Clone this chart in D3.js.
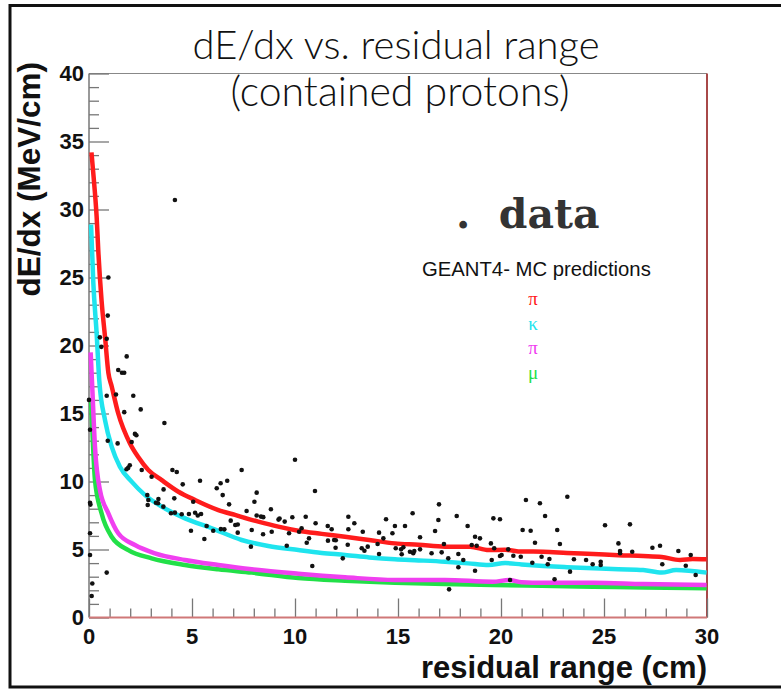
<!DOCTYPE html>
<html>
<head>
<meta charset="utf-8">
<script src="https://cdn.jsdelivr.net/npm/d3@7"></script>
<style>
  html, body { margin: 0; padding: 0; background: #fff; }
  svg { display: block; }
</style>
</head>
<body>
<svg id="chart" width="781" height="690"></svg>
<script>

// values
const rangeTicks = [0, 5, 10, 15, 20, 25, 30]
const dedxTicks = [0, 5, 10, 15, 20, 25, 30, 35, 40]

// MC prediction curves: [residual range (cm), dE/dx (MeV/cm)]
const redCurve = [
  [0.12, 34.2], [0.2, 32.8], [0.3, 31], [0.37, 29.5], [0.45, 27], [0.61, 23.3], [0.78, 20.6],
  [0.94, 18.0], [1.1, 17.0], [1.42, 15.0], [1.99, 12.8], [2.39, 11.8], [2.88, 10.85], [3.53, 10.1],
  [4.34, 9.25], [5.15, 8.64], [6.28, 7.9], [7.09, 7.54], [8.22, 7.05], [9.19, 6.68], [10.16, 6.38],
  [11.3, 6.15], [12.43, 5.94], [13.6, 5.7], [14.85, 5.45], [16, 5.35], [17.28, 5.21], [18.5, 5.21],
  [19.4, 4.96], [20.2, 4.98], [21, 4.85], [22.05, 4.84], [23.2, 4.75], [24.48, 4.67], [25.7, 4.58],
  [26.9, 4.52], [27.8, 4.45], [28.69, 4.23], [29.3, 4.3], [29.98, 4.28]
]
const cyanCurve = [
  [0.1, 28.9], [0.21, 24.6], [0.37, 20.9], [0.5, 17.4], [0.78, 14.5], [1.1, 12.56], [1.5, 11.09],
  [2.07, 9.99], [2.72, 9.0], [3.53, 8.15], [4.66, 7.29], [5.96, 6.56], [7.41, 5.7], [8.7, 5.26],
  [10.16, 4.96], [11.3, 4.75], [12.43, 4.6], [13.6, 4.42], [14.85, 4.28], [16, 4.2], [17.28, 4.1],
  [18.4, 3.98], [19.4, 3.86], [20.2, 4.0], [21, 3.9], [22.05, 3.79], [23.2, 3.7], [24.48, 3.62],
  [25.7, 3.55], [26.9, 3.49], [27.8, 3.3], [28.5, 3.49], [29.98, 3.3]
]
const magentaCurve = [
  [0.08, 19.5], [0.15, 17.2], [0.29, 12.56], [0.53, 9.38], [0.94, 7.66], [1.42, 6.19], [2.23, 5.33],
  [3.2, 4.72], [4.66, 4.23], [6.28, 3.86], [7.9, 3.54], [10.16, 3.22], [12.43, 2.96], [14.85, 2.76],
  [17.28, 2.76], [19.6, 2.63], [20.4, 2.76], [21, 2.6], [22.05, 2.56], [24.48, 2.56], [26.9, 2.46],
  [29.98, 2.39]
]
const greenCurve = [
  [0.1, 16], [0.2, 12.5], [0.29, 10.1], [0.61, 7.66], [1.1, 5.94], [1.91, 4.96], [3.04, 4.35],
  [4.66, 3.86], [6.28, 3.54], [7.9, 3.3], [10.16, 2.9], [12.43, 2.7], [14.85, 2.55], [17.28, 2.46],
  [19.6, 2.39], [22, 2.33], [24.48, 2.27], [27, 2.2], [29.98, 2.15]
]

// data points: [residual range (cm), dE/dx (MeV/cm)]
const dataPoints = [
  [0.0, 16.0], [0.05, 13.8], [0.05, 8.44], [0.07, 8.3], [0.05, 6.19], [0.05, 4.6], [0.86, 3.3],
  [0.16, 2.5], [0.13, 1.58], [4.17, 30.7], [0.94, 25.0], [0.91, 22.2], [0.53, 20.6], [0.86, 20.5],
  [0.6, 19.9], [1.83, 19.2], [1.42, 18.2], [1.6, 18.0], [1.71, 18.0], [0.86, 16.3], [1.31, 16.4],
  [2.15, 16.3], [1.71, 15.1], [2.51, 15.3], [3.66, 14.3], [2.23, 13.5], [2.3, 13.4], [0.91, 13.0],
  [1.39, 12.8], [2.07, 12.9], [10.0, 11.6], [1.9, 11.0], [1.82, 10.9], [1.98, 11.2], [2.56, 10.85],
  [4.05, 10.85], [4.26, 10.7], [3.04, 10.35], [7.41, 10.85], [5.39, 10.06], [4.55, 9.79], [6.39, 9.87],
  [6.71, 10.06], [6.2, 9.5], [3.62, 9.42], [6.49, 9.0], [8.14, 9.18], [2.83, 9.0], [2.88, 8.64],
  [3.37, 8.71], [3.25, 8.44], [3.35, 8.4], [4.14, 8.76], [2.85, 8.27], [3.61, 8.15], [5.06, 8.51],
  [8.03, 8.51], [6.8, 8.32], [4.17, 7.71], [4.5, 7.59], [3.98, 7.66], [4.85, 7.61], [5.15, 7.7],
  [5.28, 7.5], [5.44, 7.61], [8.83, 7.96], [7.65, 7.83], [8.14, 7.5], [8.35, 7.42], [8.46, 7.38],
  [9.2, 7.2], [9.25, 7.28], [9.87, 7.37], [9.5, 7.05], [10.2, 6.3], [5.71, 6.73], [6.03, 6.38],
  [6.4, 6.5], [6.57, 6.48], [6.88, 7.12], [7.1, 6.8], [7.22, 6.84], [7.22, 6.24], [7.9, 6.43],
  [8.45, 6.12], [8.87, 6.31], [9.71, 6.19], [4.95, 6.38], [5.6, 5.77], [7.86, 5.21], [9.6, 5.28],
  [10.97, 9.3], [10.52, 7.41], [12.59, 7.41], [12.88, 6.93], [11.59, 6.73], [11.78, 6.49], [11.0, 6.93],
  [10.32, 6.56], [10.68, 5.82], [10.57, 5.5], [12.59, 6.49], [13.29, 6.31], [11.6, 5.65], [11.9, 5.7],
  [11.98, 5.68], [12.56, 5.35], [11.97, 5.13], [10.84, 3.79], [12.32, 4.35], [13.24, 5.09], [13.37, 4.91],
  [13.53, 5.21], [14.08, 6.24], [14.29, 5.82], [14.01, 5.4], [14.08, 4.67], [14.42, 7.22], [14.73, 6.19],
  [14.85, 6.73], [15.34, 6.73], [14.89, 5.09], [15.15, 5.01], [15.26, 5.16], [15.18, 4.65], [15.58, 4.84],
  [15.74, 4.72], [15.79, 4.89], [15.71, 7.66], [16.07, 5.9], [16.07, 5.01], [16.63, 4.72], [16.8, 6.36],
  [16.96, 7.17], [16.99, 8.32], [17.12, 4.79], [17.23, 5.4], [17.44, 4.35], [17.48, 2.07], [17.85, 7.46],
  [17.93, 4.67], [17.93, 3.69], [18.17, 4.23], [18.38, 6.73], [18.58, 5.33], [18.74, 5.94], [18.98, 5.82],
  [18.82, 5.28], [18.74, 3.44], [19.51, 5.45], [19.63, 7.29], [19.95, 7.22], [19.67, 5.09], [19.95, 4.52],
  [19.55, 4.23], [21.21, 8.64], [21.89, 8.4], [22.14, 7.46], [23.22, 8.88], [21.05, 6.43], [21.44, 6.38],
  [22.73, 6.43], [21.65, 5.5], [22.86, 5.4], [20.35, 5.01], [20.6, 4.54], [20.96, 4.47], [20.03, 4.6],
  [21.97, 4.47], [22.35, 4.3], [21.52, 4.03], [22.27, 3.91], [20.44, 2.76], [22.6, 2.81], [23.35, 3.37],
  [23.54, 4.28], [24.13, 4.23], [24.45, 3.91], [24.84, 4.1], [24.84, 3.86], [25.05, 6.78], [25.7, 5.45],
  [25.78, 4.89], [25.78, 4.72], [26.26, 6.85], [26.37, 4.84], [27.35, 5.13], [27.72, 5.28], [27.83, 3.91],
  [28.61, 4.89], [29.21, 4.6], [28.97, 3.81], [29.45, 3.13]
]

const legendLabels = ['π', 'κ', 'π', 'μ']
const curveColors = ['#ff1c1c', '#1fe4ee', '#f040f0', '#22e048']

const svg = d3.select('#chart')

const plotLeft = 89, plotRight = 707, plotTop = 73.5, plotBottom = 617.5

const x = d3.scaleLinear().domain([0, 30]).range([plotLeft, plotRight])
const y = d3.scaleLinear().domain([0, 40]).range([plotBottom, plotTop])

// slide border: top, left and bottom only (runs off the right edge)
svg.append('path')
  .attr('d', 'M781,5.5 H10 V687 H781')
  .attr('fill', 'none')
  .attr('stroke', '#111')
  .attr('stroke-width', 3)

// plot frame: top grey, right dark red
svg.append('line')
  .attr('x1', plotLeft).attr('x2', plotRight).attr('y1', plotTop).attr('y2', plotTop)
  .attr('stroke', '#888').attr('stroke-width', 1)
svg.append('line')
  .attr('x1', plotRight).attr('x2', plotRight).attr('y1', plotTop).attr('y2', plotBottom)
  .attr('stroke', '#a84848').attr('stroke-width', 2)

// axes with ticks pointing inside
const xAxis = d3.axisTop(x)
  .tickValues(d3.range(0, 31, 1))
  .tickSize(9)
  .tickFormat('')
const xg = svg.append('g').attr('id', 'xg')
  .attr('transform', `translate(0,${plotBottom})`)
  .call(xAxis)
xg.selectAll('.tick line')
  .attr('y2', d => d % 5 === 0 ? -19 : -9)
  .attr('stroke', '#777').attr('stroke-width', 1.3)
xg.select('.domain').remove()

const yAxis = d3.axisRight(y)
  .tickValues(d3.range(0, 41, 1))
  .tickSize(10)
  .tickFormat('')
const yg = svg.append('g').attr('id', 'yg')
  .attr('transform', `translate(${plotLeft},0)`)
  .call(yAxis)
yg.selectAll('.tick line')
  .attr('x2', d => d % 5 === 0 ? 20 : 10)
  .attr('stroke', '#777').attr('stroke-width', 1.3)
yg.select('.domain').remove()

svg.append('line')
  .attr('x1', plotLeft).attr('x2', plotLeft).attr('y1', plotTop).attr('y2', plotBottom)
  .attr('stroke', '#777').attr('stroke-width', 1.5)
svg.append('line')
  .attr('x1', plotLeft).attr('x2', plotRight).attr('y1', plotBottom).attr('y2', plotBottom)
  .attr('stroke', '#d07878').attr('stroke-width', 1.8)

// tick labels
const tickFont = "'Liberation Sans', Arial, sans-serif"
svg.append('g').selectAll('text').data(rangeTicks).enter()
  .append('text')
  .attr('x', d => x(d))
  .attr('y', 644)
  .attr('text-anchor', 'middle')
  .attr('font-family', tickFont).attr('font-weight', 'bold').attr('font-size', 22)
  .attr('fill', '#111')
  .text(d => d)

svg.append('g').selectAll('text').data(dedxTicks).enter()
  .append('text')
  .attr('x', 84)
  .attr('y', d => y(d))
  .attr('dy', '0.36em')
  .attr('text-anchor', 'end')
  .attr('font-family', tickFont).attr('font-weight', 'bold').attr('font-size', 22)
  .attr('fill', '#111')
  .text(d => d)

// axis titles
svg.append('text')
  .attr('x', plotRight).attr('y', 678)
  .attr('text-anchor', 'end')
  .attr('font-family', tickFont).attr('font-weight', 'bold').attr('font-size', 31)
  .attr('fill', '#111')
  .text('residual range (cm)')

svg.append('text')
  .attr('transform', 'translate(40,62) rotate(-90)')
  .attr('text-anchor', 'end')
  .attr('font-family', tickFont).attr('font-weight', 'bold').attr('font-size', 31.5)
  .attr('fill', '#111')
  .text('dE/dx (MeV/cm)')

// curves
const line = d3.line().x(d => x(d[0])).y(d => y(d[1])).curve(d3.curveMonotoneX)
const curves = [redCurve, cyanCurve, magentaCurve, greenCurve]
svg.append('g').attr('id', 'paths')
  .selectAll('path').data(curves.slice().reverse()).enter()
  .append('path')
  .attr('d', line)
  .attr('fill', 'none')
  .attr('stroke', (d, i) => curveColors[3 - i])
  .attr('stroke-width', 4.5)
  .attr('stroke-linejoin', 'round')

// data points
svg.append('g').attr('id', 'nodes')
  .selectAll('circle').data(dataPoints).enter()
  .append('circle')
  .attr('cx', d => x(d[0]))
  .attr('cy', d => y(d[1]))
  .attr('r', 2.3)
  .attr('fill', '#111')

// title
const title = svg.append('text')
  .attr('text-anchor', 'middle')
  .attr('font-family', "Lato, 'Open Sans', sans-serif")
  .attr('font-weight', 300)
  .attr('font-size', 40)
  .attr('fill', '#111')
title.append('tspan').attr('x', 396).attr('y', 59).text('dE/dx vs. residual range')
title.append('tspan').attr('x', 400).attr('y', 106).attr('font-size', 41).text('(contained protons)')

// legend
svg.append('text')
  .attr('x', 456).attr('y', 228)
  .attr('font-family', "'DejaVu Serif', serif")
  .attr('font-weight', 'bold')
  .attr('font-size', 41)
  .attr('fill', '#333')
  .attr('xml:space', 'preserve')
  .text('.  data')

svg.append('text')
  .attr('x', 422).attr('y', 276)
  .attr('font-family', tickFont)
  .attr('font-size', 20.3)
  .attr('fill', '#111')
  .text('GEANT4- MC predictions')

svg.append('g').selectAll('text').data(legendLabels).enter()
  .append('text')
  .attr('x', 533)
  .attr('y', (d, i) => 305 + i * 24.5)
  .attr('text-anchor', 'middle')
  .attr('font-family', "'Liberation Serif', serif")
  .attr('font-size', 19)
  .attr('fill', (d, i) => curveColors[i])
  .text(d => d)

</script>
</body>
</html>
